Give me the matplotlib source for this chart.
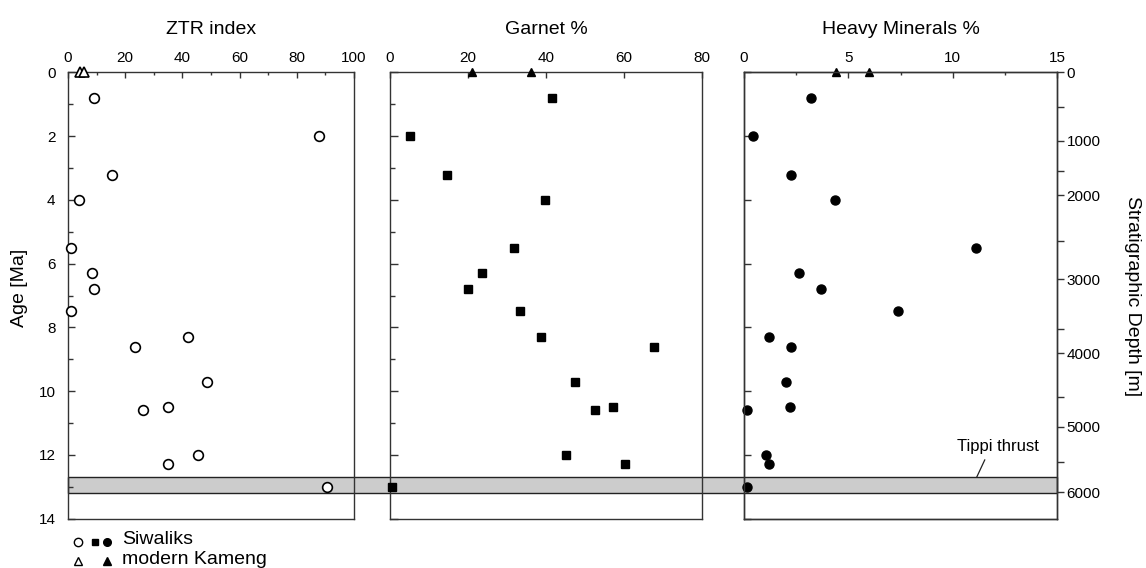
import matplotlib
matplotlib.use("Agg")
import matplotlib.pyplot as plt
from matplotlib.lines import Line2D
from matplotlib.patches import Rectangle
from matplotlib.transforms import blended_transform_factory
from matplotlib.ticker import MultipleLocator, FixedLocator, NullLocator

plt.rcParams['font.family'] = ['Liberation Sans', 'DejaVu Sans']

# sample ages [Ma] of the Siwalik samples
age = [0.82, 2.0, 3.22, 4.0, 5.52, 6.3, 6.8, 7.5, 8.3, 8.6, 9.7, 10.5, 10.6, 12.0, 12.3, 13.0]
ztr = [9.2, 87.9, 15.3, 3.7, 1.2, 8.5, 9.0, 0.9, 41.8, 23.4, 48.6, 35.1, 26.3, 45.3, 35.1, 90.5]
garnet = [41.5, 5.0, 14.5, 39.7, 31.7, 23.7, 20.0, 33.3, 38.8, 67.8, 47.5, 57.1, 52.6, 45.1, 60.3, 0.6]
heavy = [3.21, 0.43, 2.27, 4.35, 11.12, 2.64, 3.69, 7.38, 1.21, 2.25, 2.03, 2.19, 0.16, 1.05, 1.21, 0.13]

# modern Kameng river samples (age 0)
modern_age = [0, 0]
modern_ztr = [4.2, 5.7]
modern_garnet = [21.0, 36.2]
modern_heavy = [4.41, 6.0]

# stratigraphic depth axis (depth in m and the age it sits at)
depth_major = [0, 1000, 2000, 3000, 4000, 5000, 6000]
depth_major_age = [0, 2.15, 3.85, 6.49, 8.81, 11.11, 13.17]
depth_minor = [500, 1500, 2500, 3500, 4500, 5500]
depth_minor_age = [1.10, 3.09, 5.29, 8.04, 10.17, 12.21]

# Tippi thrust band
thrust_top = 12.7
thrust_bottom = 13.2

W, H = 1146, 568
fig = plt.figure(figsize=(W / 100, H / 100), dpi=100)

def px_axes(x0, x1, y0, y1):
    return fig.add_axes([x0 / W, 1 - y1 / H, (x1 - x0) / W, (y1 - y0) / H])

top, bottom = 72.3, 518.7
ax1 = px_axes(68, 354, top, bottom)
ax2 = px_axes(390, 702, top, bottom)
ax3 = px_axes(744, 1057, top, bottom)

tick_fs = 11
spine_col = '#333333'
for ax, xmax in [(ax1, 100), (ax2, 80), (ax3, 15)]:
    ax.set_xlim(0, xmax)
    ax.set_ylim(14, 0)
    ax.patch.set_visible(False)
    for s in ax.spines.values():
        s.set_color(spine_col)
        s.set_linewidth(1.0)
    ax.xaxis.tick_top()
    ax.tick_params(axis='x', which='both', direction='in', top=True, bottom=False,
                   labeltop=True, labelbottom=False, labelsize=tick_fs, pad=5, color=spine_col)
    ax.tick_params(axis='x', which='major', length=4.5, width=1.0)
    ax.tick_params(axis='x', which='minor', length=2.5, width=1.0)
    ax.tick_params(axis='y', which='both', direction='in', left=True, right=False,
                   labelsize=tick_fs, pad=9, color=spine_col)
    ax.tick_params(axis='y', which='major', length=5, width=1.0)
    ax.tick_params(axis='y', which='minor', length=3.5, width=1.0)

ax1.xaxis.set_major_locator(MultipleLocator(20))
ax1.xaxis.set_minor_locator(MultipleLocator(10))
ax1.yaxis.set_major_locator(MultipleLocator(2))
ax1.yaxis.set_minor_locator(MultipleLocator(1))

ax2.xaxis.set_major_locator(MultipleLocator(20))
ax2.yaxis.set_major_locator(MultipleLocator(2))
ax2.yaxis.set_minor_locator(MultipleLocator(1))
ax2.tick_params(axis='y', labelleft=False)
ax2.tick_params(axis='y', which='major', length=5.5)

ax3.xaxis.set_major_locator(MultipleLocator(5))
ax3.xaxis.set_minor_locator(MultipleLocator(2.5))
ax3.yaxis.set_major_locator(MultipleLocator(2))
ax3.yaxis.set_minor_locator(NullLocator())
ax3.tick_params(axis='y', labelleft=False)

ax3r = ax3.twinx()
ax3r.set_ylim(14, 0)
ax3r.yaxis.set_major_locator(FixedLocator(depth_major_age))
ax3r.yaxis.set_minor_locator(FixedLocator(depth_minor_age))
ax3r.set_yticklabels([str(d) for d in depth_major])
ax3r.tick_params(axis='y', which='both', direction='out', labelsize=tick_fs, pad=2,
                 length=5, width=1.0, color=spine_col)
for s in ax3r.spines.values():
    s.set_color(spine_col)
    s.set_linewidth(1.0)

# titles
title_y = 1 + (top - 29) / (bottom - top)
for ax, t in [(ax1, 'ZTR index'), (ax2, 'Garnet %'), (ax3, 'Heavy Minerals %')]:
    ax.text(0.5, title_y, t, transform=ax.transAxes, ha='center', va='center', fontsize=14)

fig.text(20 / W, 1 - 288 / H, 'Age [Ma]', rotation=90, ha='center', va='center', fontsize=14)
fig.text(1133 / W, 1 - 296 / H, 'Stratigraphic Depth [m]', rotation=270,
         ha='center', va='center', fontsize=14)

# thrust band across all panels
tr = blended_transform_factory(fig.transFigure, ax1.transData)
x_left = 68 / W
x_right = 1057 / W
band = Rectangle((x_left, thrust_top), x_right - x_left, thrust_bottom - thrust_top,
                 transform=tr, facecolor='#cccccc', edgecolor='#222222', lw=1.0, zorder=-1)
fig.add_artist(band)

ax3.annotate('Tippi thrust', xy=(11.15, thrust_top), xytext=(12.17, 11.75),
             ha='center', va='center', fontsize=12,
             arrowprops=dict(arrowstyle='-', lw=0.9, color='#222222',
                             relpos=(0.37, 0), shrinkA=2, shrinkB=0))

# data
ax1.plot(ztr, age, 'o', ms=7, mfc='white', mec='black', mew=1.2, clip_on=False, zorder=3)
ax1.plot(modern_ztr, modern_age, '^', ms=7.5, mfc='white', mec='black', mew=1.2, clip_on=False, zorder=3)
ax2.plot(garnet, age, 's', ms=5.5, mfc='black', mec='black', clip_on=False, zorder=3)
ax2.plot(modern_garnet, modern_age, '^', ms=6, mfc='black', mec='black', clip_on=False, zorder=3)
ax3.plot(heavy, age, 'o', ms=6.5, mfc='black', mec='black', clip_on=False, zorder=3)
ax3.plot(modern_heavy, modern_age, '^', ms=6, mfc='black', mec='black', clip_on=False, zorder=3)

# legend
def fig_marker(x, y, **kw):
    fig.add_artist(Line2D([x / W], [1 - y / H], transform=fig.transFigure, ls='none', **kw))

fig_marker(78, 542, marker='o', ms=6, mfc='white', mec='black', mew=1.0)
fig_marker(95, 542, marker='s', ms=5, mfc='black', mec='black')
fig_marker(107, 542, marker='o', ms=5.5, mfc='black', mec='black')
fig_marker(78, 561, marker='^', ms=6, mfc='white', mec='black', mew=1.0)
fig_marker(107, 561, marker='^', ms=5.5, mfc='black', mec='black')
fig.text(122 / W, 1 - 540 / H, 'Siwaliks', ha='left', va='center', fontsize=14)
fig.text(122 / W, 1 - 559 / H, 'modern Kameng', ha='left', va='center', fontsize=14)

fig.savefig('out.png', dpi=100, facecolor='white')
